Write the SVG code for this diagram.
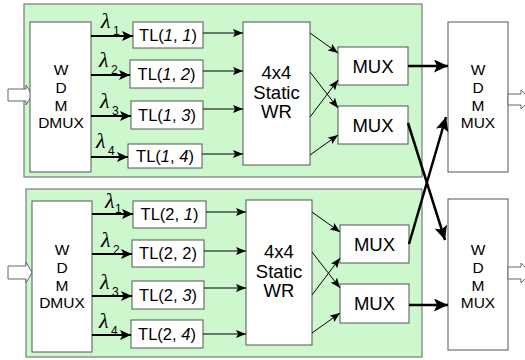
<svg xmlns="http://www.w3.org/2000/svg" width="525" height="360" viewBox="0 0 525 360">
<style>
.panel{fill:#cdf7cd;stroke:#7a7a7a;stroke-width:1.2}
.box{fill:#ffffff;stroke:#555555;stroke-width:1}
.t{font-family:"Liberation Sans",Arial,sans-serif;fill:#000;text-anchor:middle}
.s15{font-size:15.5px}
.s16{font-size:16.5px}
.s18{font-size:18.5px}
.it{font-style:italic}
.lam{font-family:"Liberation Serif","DejaVu Serif",serif;font-style:italic;font-size:22px;fill:#000}
.sub{font-family:"Liberation Sans",Arial,sans-serif;font-size:12px;fill:#000}
.thick{stroke:#000;stroke-width:2;fill:none}
.thin{stroke:#000;stroke-width:1;fill:none}
.heavy{stroke:#000;stroke-width:2.5;fill:none}
.blk{fill:#ffffff;stroke:#666666;stroke-width:1}
</style>
<defs>
<marker id="mid" markerUnits="userSpaceOnUse" markerWidth="11" markerHeight="10" refX="11" refY="5" orient="auto">
<path d="M0,0 L11,5 L0,10 L2.5,5 z" fill="#000"/>
</marker>
<marker id="small" markerUnits="userSpaceOnUse" markerWidth="10" markerHeight="8" refX="10" refY="4" orient="auto">
<path d="M0,0 L10,4 L0,8 L2,4 z" fill="#000"/>
</marker>
<marker id="big" markerUnits="userSpaceOnUse" markerWidth="14" markerHeight="13" refX="14" refY="6.5" orient="auto">
<path d="M0,0 L14,6.5 L0,13 L3,6.5 z" fill="#000"/>
</marker>
</defs>

<g id="panel1"><rect class="panel" x="24" y="4" width="398" height="173"/></g>
<g id="panel2"><rect class="panel" x="26" y="189" width="396" height="168"/></g>

<g id="in1"><polygon class="blk" points="8,89 26,89 26,85 32,95 26,105 26,101 8,101"/></g>
<g id="in2"><polygon class="blk" points="8,266 26,266 26,262 32,272.5 26,283 26,279 8,279"/></g>

<g id="dmux1"><rect class="box" x="30" y="22" width="61" height="150"/>
<text class="t s15" x="61" y="75">W</text><text class="t s15" x="61" y="93">D</text><text class="t s15" x="61" y="111">M</text><text class="t s15" x="61" y="128">DMUX</text></g>
<g id="dmux2"><rect class="box" x="32" y="201" width="60" height="151"/>
<text class="t s15" x="62" y="255">W</text><text class="t s15" x="62" y="273">D</text><text class="t s15" x="62" y="291">M</text><text class="t s15" x="62" y="308">DMUX</text></g>

<g id="tl11"><rect class="box" x="133" y="22" width="70" height="26"/><text class="t s16" x="168" y="41">TL(<tspan class="it">1</tspan>, <tspan class="it">1</tspan>)</text></g>
<g id="tl12"><rect class="box" x="130" y="60" width="73" height="28"/><text class="t s16" x="166.5" y="80">TL(<tspan class="it">1</tspan>, <tspan class="it">2</tspan>)</text></g>
<g id="tl13"><rect class="box" x="131" y="101" width="72" height="28"/><text class="t s16" x="167" y="121">TL(<tspan class="it">1</tspan>, <tspan class="it">3</tspan>)</text></g>
<g id="tl14"><rect class="box" x="128" y="144" width="74" height="24"/><text class="t s16" x="165" y="162">TL(<tspan class="it">1</tspan>, <tspan class="it">4</tspan>)</text></g>

<g id="tl21"><rect class="box" x="133" y="201" width="73" height="27"/><text class="t s16" x="169.5" y="220">TL(2, <tspan class="it">1</tspan>)</text></g>
<g id="tl22"><rect class="box" x="132" y="240" width="72" height="27"/><text class="t s16" x="168" y="259">TL(2, 2)</text></g>
<g id="tl23"><rect class="box" x="132" y="281" width="72" height="28"/><text class="t s16" x="168" y="301">TL(2, <tspan class="it">3</tspan>)</text></g>
<g id="tl24"><rect class="box" x="131" y="320" width="72" height="28"/><text class="t s16" x="167" y="340">TL(2, <tspan class="it">4</tspan>)</text></g>

<g id="wr1"><rect class="box" x="243" y="22" width="67" height="143"/>
<text class="t s18" x="276.5" y="79">4x4</text><text class="t s18" x="276.5" y="99">Static</text><text class="t s18" x="276.5" y="118">WR</text></g>
<g id="wr2"><rect class="box" x="246" y="200" width="66" height="145"/>
<text class="t s18" x="279" y="258">4x4</text><text class="t s18" x="279" y="278">Static</text><text class="t s18" x="279" y="297">WR</text></g>

<g id="mux11"><rect class="box" x="338" y="47" width="70" height="38"/><text class="t s18" x="373" y="72.5">MUX</text></g>
<g id="mux12"><rect class="box" x="338" y="106" width="70" height="38"/><text class="t s18" x="373" y="131.5">MUX</text></g>
<g id="mux21"><rect class="box" x="340" y="225" width="69" height="38"/><text class="t s18" x="374.5" y="250.5">MUX</text></g>
<g id="mux22"><rect class="box" x="340" y="284" width="69" height="39"/><text class="t s18" x="374.5" y="310">MUX</text></g>

<g id="wdmmux1"><rect class="box" x="448" y="22" width="60" height="150"/>
<text class="t s15" x="478" y="75">W</text><text class="t s15" x="478" y="93">D</text><text class="t s15" x="478" y="111">M</text><text class="t s15" x="478" y="128">MUX</text></g>
<g id="wdmmux2"><rect class="box" x="448" y="199" width="60" height="151"/>
<text class="t s15" x="478" y="255">W</text><text class="t s15" x="478" y="273">D</text><text class="t s15" x="478" y="291">M</text><text class="t s15" x="478" y="308">MUX</text></g>

<g id="out1"><polygon class="blk" points="508,94 521,94 521,90 531,99.5 521,109 521,105 508,105"/></g>
<g id="out2"><polygon class="blk" points="508,267 521,267 521,263 531,273 521,283 521,279 508,279"/></g>

<g id="labels">
<text class="lam" x="101" y="28">λ</text><text class="sub" x="113" y="35">1</text>
<text class="lam" x="99" y="67">λ</text><text class="sub" x="111" y="74">2</text>
<text class="lam" x="100" y="108">λ</text><text class="sub" x="112" y="115">3</text>
<text class="lam" x="96" y="148">λ</text><text class="sub" x="108" y="155">4</text>
<text class="lam" x="105" y="208">λ</text><text class="sub" x="115" y="213">1</text>
<text class="lam" x="101" y="247">λ</text><text class="sub" x="113" y="254">2</text>
<text class="lam" x="100" y="289">λ</text><text class="sub" x="112" y="296">3</text>
<text class="lam" x="99" y="328">λ</text><text class="sub" x="111" y="335">4</text>
</g>

<g id="connectors">
<line class="thick" x1="91" y1="36" x2="133" y2="36" marker-end="url(#mid)"/>
<line class="thick" x1="91" y1="75" x2="130" y2="75" marker-end="url(#mid)"/>
<line class="thick" x1="91" y1="116" x2="131" y2="116" marker-end="url(#mid)"/>
<line class="thick" x1="91" y1="157" x2="128" y2="157" marker-end="url(#mid)"/>
<line class="thick" x1="92" y1="214" x2="133" y2="214" marker-end="url(#mid)"/>
<line class="thick" x1="92" y1="254" x2="132" y2="254" marker-end="url(#mid)"/>
<line class="thick" x1="92" y1="296" x2="132" y2="296" marker-end="url(#mid)"/>
<line class="thick" x1="92" y1="335" x2="131" y2="335" marker-end="url(#mid)"/>

<line class="thin" x1="203" y1="33" x2="243" y2="33" marker-end="url(#small)"/>
<line class="thin" x1="203" y1="71" x2="243" y2="71" marker-end="url(#small)"/>
<line class="thin" x1="203" y1="109" x2="243" y2="109" marker-end="url(#small)"/>
<line class="thin" x1="202" y1="154" x2="243" y2="154" marker-end="url(#small)"/>
<line class="thin" x1="206" y1="212" x2="246" y2="212" marker-end="url(#small)"/>
<line class="thin" x1="204" y1="251" x2="246" y2="251" marker-end="url(#small)"/>
<line class="thin" x1="204" y1="288" x2="246" y2="288" marker-end="url(#small)"/>
<line class="thin" x1="203" y1="334" x2="246" y2="334" marker-end="url(#small)"/>

<line class="thin" x1="310" y1="33" x2="338" y2="53" marker-end="url(#small)"/>
<line class="thin" x1="310" y1="72" x2="338" y2="108" marker-end="url(#small)"/>
<line class="thin" x1="310" y1="117" x2="338" y2="80" marker-end="url(#small)"/>
<line class="thin" x1="310" y1="155" x2="338" y2="135" marker-end="url(#small)"/>
<line class="thin" x1="312" y1="212" x2="340" y2="232" marker-end="url(#small)"/>
<line class="thin" x1="312" y1="252" x2="340" y2="288" marker-end="url(#small)"/>
<line class="thin" x1="312" y1="295" x2="340" y2="258" marker-end="url(#small)"/>
<line class="thin" x1="312" y1="333" x2="340" y2="313" marker-end="url(#small)"/>

<line class="heavy" x1="408" y1="66" x2="448" y2="66" marker-end="url(#big)"/>
<line class="heavy" x1="409" y1="305" x2="448" y2="305" marker-end="url(#big)"/>
<line class="heavy" x1="409" y1="244" x2="446" y2="117" marker-end="url(#big)"/>
<line class="heavy" x1="408" y1="123" x2="445" y2="240" marker-end="url(#big)"/>
</g>
</svg>
